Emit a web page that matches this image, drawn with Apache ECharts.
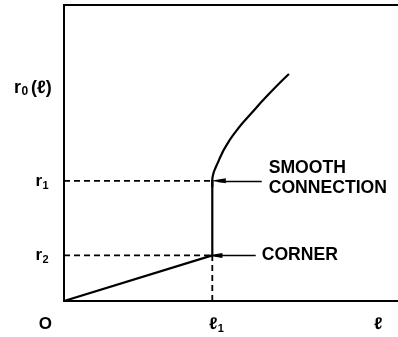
<!DOCTYPE html>
<html>
<head>
<meta charset="utf-8">
<script src="https://cdn.jsdelivr.net/npm/echarts@6/dist/echarts.min.js"></script>
<style>
  html, body { margin: 0; padding: 0; background: #fff; }
  #chart { width: 398px; height: 337px; }
</style>
</head>
<body>
<div id="chart"></div>
<script>
// Key positions on the axes (arbitrary units, axis 0..100)
const L1 = 44.4;   // l1 on the horizontal axis
const R1 = 40.6;   // r1: smooth connection height
const R2 = 15.4;   // r2: corner height

// r0(l): straight rise to the corner, vertical jump, then a smooth branch
const lowerBranch = [[0, 0], [L1, R2], [L1, R1]];
const upperBranch = [
  [44.4, 38.6], [44.4, 40.6], [44.64, 42.63], [45.23, 44.65], [46.03, 46.68], [47.12, 49.38],
  [48.36, 52.09], [51.59, 57.49], [56.23, 63.57], [61.41, 69.99], [67.18, 76.5]
];

// dashed guides
const guideR1 = [[0, R1], [L1, R1]];
const guideR2 = [[0, R2], [L1, R2]];
const guideL1 = [[L1, 0], [L1, R2]];

// tick labels: [value, base text, subscript]
const yTickLabels = [[R1, 'r', '1'], [R2, 'r', '2']];
const xTickLabels = [[0, 'O', ''], [L1, 'ℓ', '1'], [93.8, 'ℓ', '']];
const yTitle = { value: 72, base: 'r', sub: '0', tail: '(ℓ)' };

// annotation arrows: [from x, to x, y, text]
const notes = [
  [59.2, 46.2, R1, 'SMOOTH\nCONNECTION'],
  [57.4, 45.2, R2, 'CORNER']
];

const FONT = 'Liberation Sans, Arial, sans-serif';
const chart = echarts.init(document.getElementById('chart'));

const solid = { color: '#000', width: 2.2, cap: 'round', join: 'round' };
const dashed = { color: '#000', width: 1.8, type: [6, 4] };
const frame = { show: true, lineStyle: { color: '#000', width: 2 } };
const hidden = { show: false };

chart.setOption({
  animation: false,
  backgroundColor: '#fff',
  grid: { left: 64, top: 5, right: 0, bottom: 36 },
  xAxis: [
    { type: 'value', min: 0, max: 100, position: 'bottom', axisLine: frame, axisTick: hidden, axisLabel: hidden, splitLine: hidden },
    { type: 'value', min: 0, max: 100, position: 'top', axisLine: frame, axisTick: hidden, axisLabel: hidden, splitLine: hidden }
  ],
  yAxis: { type: 'value', min: 0, max: 100, axisLine: frame, axisTick: hidden, axisLabel: hidden, splitLine: hidden },
  series: [
    { type: 'line', data: guideR1, symbol: 'none', lineStyle: dashed, silent: true },
    { type: 'line', data: guideR2, symbol: 'none', lineStyle: dashed, silent: true },
    { type: 'line', data: guideL1, symbol: 'none', lineStyle: dashed, silent: true },
    { type: 'line', data: lowerBranch, symbol: 'none', lineStyle: solid, silent: true,
      markLine: {
        silent: true,
        symbol: ['none', 'triangle'],
        symbolSize: [5, 15],
        label: { show: false },
        lineStyle: { color: '#000', width: 1.3, type: 'solid' },
        data: notes.map(n => [{ coord: [n[0], n[2]] }, { coord: [n[1], n[2]] }])
      }
    },
    { type: 'line', data: upperBranch, symbol: 'none', smooth: 0.6, lineStyle: solid, silent: true }
  ]
});

// text placed through the axis scales
function px(x, y) { return chart.convertToPixel({ gridIndex: 0 }, [x, y]); }
const g = [];
function txt(x, y, text, size, align, extra) {
  g.push({ type: 'text', x: x, y: y, style: Object.assign({
    text: text, font: 'bold ' + size + 'px ' + FONT, fill: '#000', align: align, verticalAlign: 'middle'
  }, extra || {}) });
}
function subLabel(cx, cy, base, sub) {
  txt(cx, cy, base, 17, 'right');
  if (sub) txt(cx + 0.5, cy + 5, sub, 11, 'left');
}
yTickLabels.forEach(t => {
  const p = px(0, t[0]);
  subLabel(p[0] - 22, p[1], t[1], t[2]);
});
xTickLabels.forEach(t => {
  const p = px(t[0], 0);
  const dx = t[1] === 'O' ? -17 : 0;
  subLabel(p[0] + dx + 5, p[1] + 23, t[1], t[2]);
});
{
  const p = px(0, yTitle.value);
  txt(p[0] - 43, p[1], yTitle.base, 18, 'right');
  txt(p[0] - 42.5, p[1] + 4, yTitle.sub, 12, 'left');
  txt(p[0] - 33, p[1], yTitle.tail, 18, 'left');
}
notes.forEach(n => {
  const p = px(n[0], n[2]);
  const multi = n[3].indexOf('\n') >= 0;
  txt(p[0] + (multi ? 7 : 6), p[1] - (multi ? 3 : 0), n[3], 17.6, 'left', { lineHeight: 20 });
});
chart.setOption({ graphic: g });
</script>
</body>
</html>
